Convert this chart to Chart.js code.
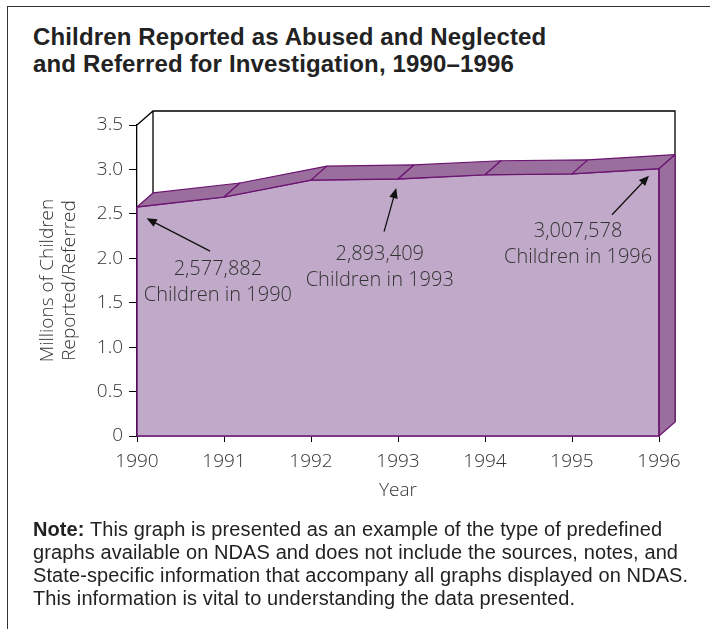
<!DOCTYPE html>
<html>
<head>
<meta charset="utf-8">
<script src="https://cdn.jsdelivr.net/npm/chart.js@4"></script>
<style>
  html, body { margin: 0; padding: 0; background: #fff; }
  #page { position: relative; width: 710px; height: 629px; overflow: hidden; }
  #frame { position: absolute; left: 7px; top: 6px; width: 720px; height: 640px;
           border-left: 1.5px solid #333; border-top: 1.5px solid #333; }
  #title { position: absolute; left: 33px; top: 24px; margin: 0; white-space: nowrap;
           font: bold 24px "Liberation Sans", Arial, sans-serif; line-height: 26.5px; color: #222;
           letter-spacing: 0.15px; }
  #note { position: absolute; left: 33px; top: 518px; margin: 0; white-space: nowrap;
          font: 20px "Liberation Sans", Arial, sans-serif; line-height: 23px; color: #222;
          letter-spacing: 0.1px; }
  #chart { position: absolute; left: 0; top: 0; }
</style>
</head>
<body>
<div id="page">
  <div id="frame"></div>
  <div id="title">Children Reported as Abused and Neglected<br>and Referred for Investigation, 1990–1996</div>
  <canvas id="chart" width="710" height="629"></canvas>
  <div id="note"><b>Note:</b> This graph is presented as an example of the type of predefined<br>graphs available on NDAS and does not include the sources, notes, and<br>State-specific information that accompany all graphs displayed on NDAS.<br>This information is vital to understanding the data presented.</div>
</div>
<script>
const years = ["1990", "1991", "1992", "1993", "1994", "1995", "1996"];
const millions = [2.578, 2.69, 2.88, 2.893, 2.94, 2.95, 3.008];
const yTicks = [0, 0.5, 1.0, 1.5, 2.0, 2.5, 3.0, 3.5];

// callouts: text lines, text centre (x index, y value), arrow tail and head
const noteLines = [["2,577,882", "Children in 1990"], ["2,893,409", "Children in 1993"], ["3,007,578", "Children in 1996"]];
const noteAt = [[0.93, 1.88], [2.79, 2.04], [5.07, 2.30]];
const arrowFrom = [[0.84, 2.08], [2.84, 2.30], [5.46, 2.49]];
const arrowTo = [[0.11, 2.45], [2.98, 2.79], [5.885, 2.93]];

const FRONT = "#c1aac9";
const SIDE = "#9b6f9d";
const EDGE = "#6b1470";
const DX = 16, DY = -14;
const FONT = "'Open Sans', 'DejaVu Sans', sans-serif";

const depth3d = {
  id: "depth3d",
  beforeDatasetsDraw(chart) {
    const { ctx, chartArea: a, scales: { y } } = chart;
    const y0 = y.getPixelForValue(0);
    const yFirst = y.getPixelForValue(millions[0]);
    ctx.save();
    ctx.strokeStyle = "#000";
    ctx.lineWidth = 1.3;
    ctx.beginPath();
    ctx.moveTo(a.left, a.top);
    ctx.lineTo(a.left + DX, a.top + DY);
    ctx.lineTo(a.right + DX, a.top + DY);
    ctx.lineTo(a.right + DX, y0 + DY);
    ctx.moveTo(a.left + DX, a.top + DY);
    ctx.lineTo(a.left + DX, yFirst + DY);
    ctx.stroke();
    ctx.restore();
  },
  afterDatasetsDraw(chart) {
    const { ctx, scales: { x, y } } = chart;
    const pts = millions.map((v, i) => [x.getPixelForValue(i), y.getPixelForValue(v)]);
    const y0 = y.getPixelForValue(0);
    ctx.save();
    ctx.lineJoin = "round";
    ctx.strokeStyle = EDGE;
    ctx.fillStyle = SIDE;
    ctx.lineWidth = 1.2;
    for (let i = 0; i < pts.length - 1; i++) {
      const [x1, y1] = pts[i], [x2, y2] = pts[i + 1];
      ctx.beginPath();
      ctx.moveTo(x1, y1);
      ctx.lineTo(x2, y2);
      ctx.lineTo(x2 + DX, y2 + DY);
      ctx.lineTo(x1 + DX, y1 + DY);
      ctx.closePath();
      ctx.fill();
      ctx.stroke();
    }
    const [xl, yl] = pts[pts.length - 1];
    ctx.beginPath();
    ctx.moveTo(xl, yl);
    ctx.lineTo(xl + DX, yl + DY);
    ctx.lineTo(xl + DX, y0 + DY);
    ctx.lineTo(xl, y0);
    ctx.closePath();
    ctx.fill();
    ctx.stroke();
    // front face outline
    ctx.lineWidth = 1.5;
    ctx.beginPath();
    ctx.moveTo(pts[0][0], pts[0][1]);
    ctx.lineTo(pts[0][0], y0);
    ctx.lineTo(xl, y0);
    ctx.lineTo(xl, yl);
    ctx.stroke();

    // callouts
    ctx.font = "300 20px " + FONT;
    ctx.textAlign = "center";
    ctx.textBaseline = "middle";
    noteLines.forEach((lines, k) => {
      const cx = x.getPixelForValue(noteAt[k][0]);
      const cy = y.getPixelForValue(noteAt[k][1]);
      ctx.fillStyle = "#333";
      lines.forEach((t, j) => ctx.fillText(t, cx, cy + j * 26));
      const tx = x.getPixelForValue(arrowFrom[k][0]), ty = y.getPixelForValue(arrowFrom[k][1]);
      const hx = x.getPixelForValue(arrowTo[k][0]), hy = y.getPixelForValue(arrowTo[k][1]);
      const ang = Math.atan2(hy - ty, hx - tx);
      ctx.strokeStyle = "#111";
      ctx.lineWidth = 1.3;
      ctx.beginPath();
      ctx.moveTo(tx, ty);
      ctx.lineTo(hx - 6 * Math.cos(ang), hy - 6 * Math.sin(ang));
      ctx.stroke();
      ctx.fillStyle = "#111";
      ctx.beginPath();
      ctx.moveTo(hx, hy);
      ctx.lineTo(hx - 11 * Math.cos(ang - 0.4), hy - 11 * Math.sin(ang - 0.4));
      ctx.lineTo(hx - 11 * Math.cos(ang + 0.4), hy - 11 * Math.sin(ang + 0.4));
      ctx.closePath();
      ctx.fill();
    });
    ctx.restore();
  }
};

new Chart(document.getElementById("chart"), {
  type: "line",
  data: {
    labels: years,
    datasets: [{
      data: millions,
      fill: "origin",
      backgroundColor: FRONT,
      borderColor: EDGE,
      borderWidth: 1.5,
      pointRadius: 0,
      tension: 0
    }]
  },
  options: {
    responsive: false,
    animation: false,
    events: [],
    layout: { padding: { left: 37, right: 51, top: 125, bottom: 123 } },
    plugins: { legend: { display: false }, tooltip: { enabled: false } },
    scales: {
      x: {
        offset: false,
        grid: { display: true, drawOnChartArea: false, drawTicks: true, tickLength: 6, color: "#000" },
        border: { display: true, color: EDGE, width: 1.5 },
        ticks: { color: "#333", font: { family: FONT, size: 19, weight: "300" }, padding: 8, maxRotation: 0 },
        title: { display: true, text: "Year", color: "#333", font: { family: FONT, size: 19, weight: "300" }, padding: { top: 0 } },
        afterFit(s) { s.height = 70; }
      },
      y: {
        min: 0,
        max: 3.5,
        afterBuildTicks(s) { s.ticks = yTicks.map(v => ({ value: v })); },
        grid: { display: true, drawOnChartArea: false, drawTicks: true, tickLength: 8, color: "#000" },
        border: { display: true, color: "#000", width: 1.3 },
        ticks: {
          color: "#333",
          font: { family: FONT, size: 19, weight: "300" },
          padding: 6,
          callback: v => (v === 0 ? "0" : v.toFixed(1))
        },
        title: {
          display: true,
          text: ["Millions of Children", "Reported/Referred"],
          color: "#333",
          font: { family: FONT, size: 19, weight: "300", lineHeight: 1.15 },
          padding: { top: 0, bottom: 0 }
        },
        afterFit(s) { s.width = 100; }
      }
    }
  },
  plugins: [depth3d]
});
</script>
</body>
</html>
